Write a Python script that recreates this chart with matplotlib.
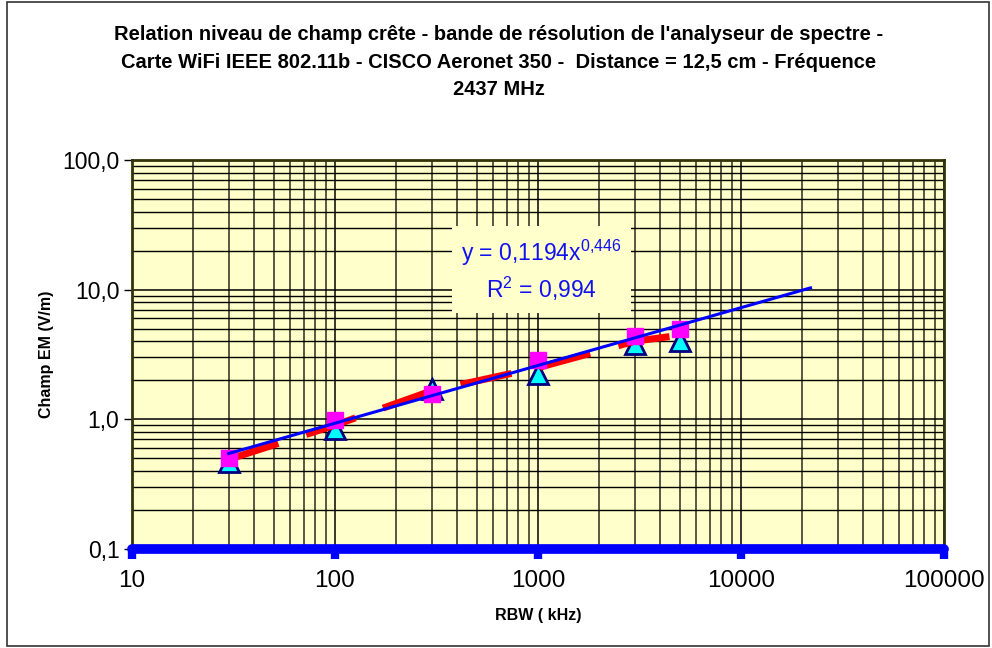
import matplotlib.pyplot as plt
import numpy as np
from matplotlib.ticker import FixedLocator, FuncFormatter, NullFormatter
from matplotlib.patches import Rectangle

plt.rcParams['font.family'] = ['Liberation Sans', 'DejaVu Sans']
plt.rcParams['mathtext.default'] = 'regular'

# data
rbw = [30, 100, 300, 1000, 3000, 5000]
champ_tri = [0.47, 0.84, 1.70, 2.22, 3.79, 3.99]
champ_sq = [0.50, 0.98, 1.56, 2.85, 4.36, 4.94]
champ_moy = [0.49, 0.90, 1.66, 2.50, 4.00, 4.45]

# power trendline from the label
coef_a = 0.1194
coef_b = 0.446
r2 = 0.994
trend_x0, trend_x1 = 30, 22000

xticks = [10, 100, 1000, 10000, 100000]
yticks = [0.1, 1, 10, 100]

title = ("Relation niveau de champ crête - bande de résolution de l'analyseur de spectre -\n"
         "Carte WiFi IEEE 802.11b - CISCO Aeronet 350 -  Distance = 12,5 cm - Fréquence\n"
         "2437 MHz")

fig = plt.figure(figsize=(9.92, 6.48), dpi=100)
ax = fig.add_axes([0.133, 0.153, 0.8186, 0.600])
ax.set_facecolor('#FFFFCC')
ax.set_xscale('log')
ax.set_yscale('log')
ax.set_xlim(10, 100000)
ax.set_ylim(0.1, 100)

# grid
ax.yaxis.set_minor_locator(FixedLocator([m * d for d in [0.1, 1, 10] for m in range(2, 10)]))
ax.xaxis.set_minor_locator(FixedLocator([m * d for d in [10, 100, 1000, 10000] for m in range(2, 10)]))
ax.grid(True, which='major', axis='both', color='black', lw=1.1, zorder=0)
ax.grid(True, which='minor', axis='y', color='black', lw=1.0, zorder=0)
ax.grid(True, which='minor', axis='x', color='#4a4a38', lw=1.3, zorder=0)
ax.set_axisbelow(True)

# series
ax.plot(rbw, champ_tri, ls='none', marker='^', ms=15, mfc='#00FFFF', mec='#000080', mew=2, zorder=3)
ax.plot(rbw, champ_moy, color='#FF0000', lw=5, dashes=(7.5, 4.2), zorder=4)
ax.plot(rbw, champ_sq, ls='none', marker='s', ms=11, mfc='#FF00FF', mec='#FF00FF', zorder=5)

tx = np.geomspace(trend_x0, trend_x1, 200)
ax.plot(tx, coef_a * tx ** coef_b, color='#0000FF', lw=2.2, zorder=6)

a_txt = f"{coef_a}".replace('.', ',')
b_txt = f"{coef_b}".replace('.', '{,}')
r2_txt = f"{r2}".replace('.', ',')
eq = f"y = {a_txt}x$^{{{b_txt}}}$\nR$^2$ = {r2_txt}"
fig.text(0.546, 0.583, eq, ha='center', va='center',
         color='#1010F0', fontsize=16.5, linespacing=1.3, multialignment='center',
         bbox=dict(facecolor='#FFFFCC', edgecolor='none', pad=7), zorder=7)

# axes styling
ax.xaxis.set_major_locator(FixedLocator(xticks))
ax.yaxis.set_major_locator(FixedLocator(yticks))
ax.xaxis.set_minor_formatter(NullFormatter())
ax.yaxis.set_minor_formatter(NullFormatter())
ax.xaxis.set_major_formatter(FuncFormatter(lambda v, p: f"{int(round(v))}"))
ax.yaxis.set_major_formatter(FuncFormatter(lambda v, p: f"{v:.1f}".replace('.', ',')))
ax.tick_params(axis='x', which='major', direction='out', length=7, width=6, color='#0000FF',
               labelsize=17.5, pad=8)
ax.tick_params(axis='y', which='major', direction='out', length=6, width=1, color='black',
               labelsize=16.5, pad=3)
ax.tick_params(which='minor', length=0)

for s in ['left', 'top', 'right']:
    ax.spines[s].set_color('#33330a')
    ax.spines[s].set_linewidth(2)
ax.spines['bottom'].set_color('#0000FF')
ax.spines['bottom'].set_linewidth(7)
ax.spines['bottom'].set_capstyle('round')
ax.spines['bottom'].set_zorder(8)

ax.set_xlabel("RBW ( kHz)", fontsize=11.5, fontweight='bold', labelpad=12)
ax.set_ylabel("Champ EM (V/m)", fontsize=11.5, fontweight='bold', labelpad=6)

fig.text(0.503, 0.904, title, ha='center', va='center', fontsize=14.5, fontweight='bold',
         linespacing=1.55)

fig.patches.append(Rectangle((0.007, 0.003), 0.99, 0.994, transform=fig.transFigure,
                             fill=False, edgecolor='#333333', lw=1.2))

fig.savefig('out.png', dpi=100)
